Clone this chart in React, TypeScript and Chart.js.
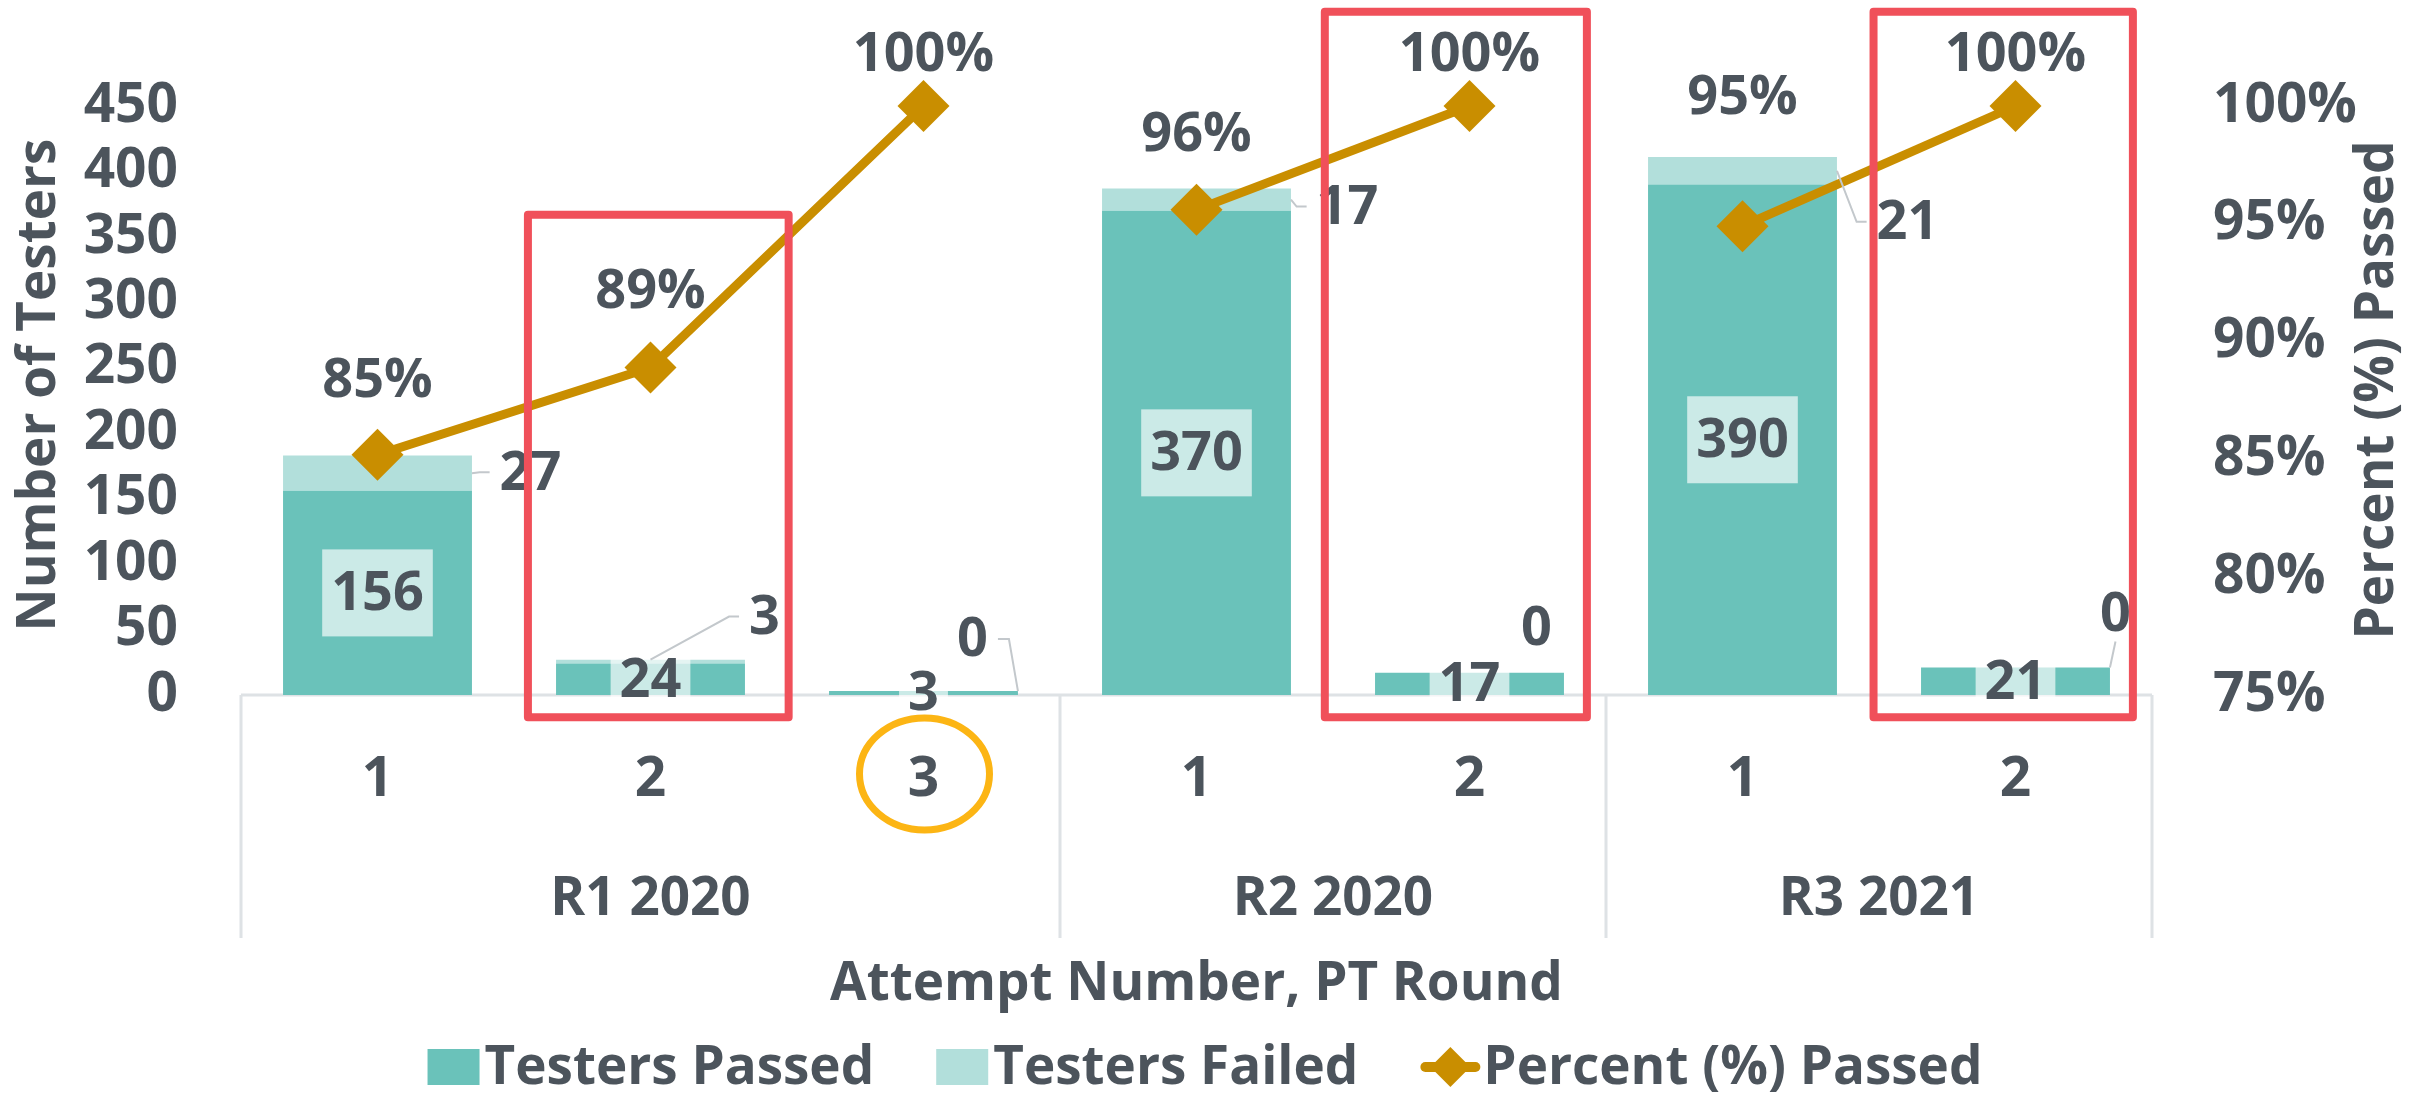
import React, { useEffect, useRef } from 'react';
import { Chart, registerables } from 'chart.js';

Chart.register(...registerables);

// ---------- data ----------
const attemptLabels = ['1', '2', '3', '1', '2', '1', '2'];
const roundOfBar = [0, 0, 0, 1, 1, 2, 2];
const roundNames = ['R1 2020', 'R2 2020', 'R3 2021'];
const testersPassed = [156, 24, 3, 370, 17, 390, 21];
const testersFailed = [27, 3, 0, 17, 0, 21, 0];
const percentPassed = [0.852, 0.889, 1.0, 0.956, 1.0, 0.949, 1.0];
const countTicks = [0, 50, 100, 150, 200, 250, 300, 350, 400, 450];
const percentTicks = [0.75, 0.8, 0.85, 0.9, 0.95, 1.0];

const yTitle = 'Number of Testers';
const y1Title = 'Percent (%) Passed';
const xTitle = 'Attempt Number, PT Round';

// ---------- styling ----------
const W = 2433;
const H = 1094;
const TEAL = '#6AC2BA';
const TEAL_LIGHT = '#B2DFDB';
const GOLD = '#C98E00';
const TEXT = '#4C545C';
const RED = '#F0505A';
const AMBER = '#FCB514';
const GRIDC = '#DEE2E5';
const LEADER = '#C3C8CC';
const FAMILY = "'Open Sans', 'DejaVu Sans', sans-serif";
const AXIS_FONT = `bold 53px ${FAMILY}`;
const LABEL_FONT = `bold 54px ${FAMILY}`;

const pctLabelLift = [75, 77, 52, 76, 52, 130, 52];
const failedLabelPlacement: { dx: number; dy: number; from: string | null; to: string | null }[] = [
  { dx: 153, dy: -1, from: 'edge', to: 'left' },
  { dx: 114, dy: -45, from: 'top', to: 'left' },
  { dx: 49, dy: -52, from: 'corner', to: 'right' },
  { dx: 151, dy: 7, from: 'edge', to: 'left' },
  { dx: 67, dy: -45, from: null, to: null },
  { dx: 165, dy: 51, from: 'edge', to: 'left' },
  { dx: 100, dy: -54, from: 'corner', to: 'below' },
];
const highlightBoxes = [
  { from: 0.551, to: 1.506, top: 367, bottom: -17 },
  { from: 3.47, to: 4.43, top: 522, bottom: -17 },
  { from: 5.48, to: 6.43, top: 522, bottom: -17 },
];
const circledIndex = 2;

function drawDiamond(ctx: CanvasRenderingContext2D, x: number, y: number, r: number) {
  ctx.beginPath();
  ctx.moveTo(x - r, y);
  ctx.lineTo(x, y - r);
  ctx.lineTo(x + r, y);
  ctx.lineTo(x, y + r);
  ctx.closePath();
  ctx.fill();
}

const overlayPlugin = {
  id: 'overlay',
  beforeDatasetsDraw(chart: any) {
    const { ctx, chartArea: a } = chart;
    const x = chart.scales.x;
    ctx.save();
    ctx.strokeStyle = GRIDC;
    ctx.lineWidth = 3;
    ctx.beginPath();
    ctx.moveTo(a.left, a.bottom);
    ctx.lineTo(a.right, a.bottom);
    const bounds: number[] = [-0.5];
    for (let i = 1; i < roundOfBar.length; i++) if (roundOfBar[i] !== roundOfBar[i - 1]) bounds.push(i - 0.5);
    bounds.push(roundOfBar.length - 0.5);
    bounds.forEach((b) => {
      const px = x.getPixelForValue(b);
      ctx.moveTo(px, a.bottom);
      ctx.lineTo(px, a.bottom + 243);
    });
    ctx.stroke();
    ctx.restore();
  },
  afterDatasetsDraw(chart: any) {
    const { ctx } = chart;
    const lineMeta = chart.getDatasetMeta(0);
    const passMeta = chart.getDatasetMeta(1);
    const failMeta = chart.getDatasetMeta(2);
    ctx.save();
    ctx.font = LABEL_FONT;
    ctx.textAlign = 'center';
    ctx.textBaseline = 'middle';

    // passed labels (inside, with translucent box)
    passMeta.data.forEach((bar: any, i: number) => {
      const t = String(testersPassed[i]);
      const cy = (bar.y + bar.base) / 2;
      const tw = ctx.measureText(t).width;
      ctx.fillStyle = 'rgba(255,255,255,0.65)';
      ctx.fillRect(bar.x - tw / 2 - 9, cy - 43.5, tw + 18, 87);
      ctx.fillStyle = TEXT;
      ctx.fillText(t, bar.x, cy + 2);
    });

    // failed labels with leader lines
    failMeta.data.forEach((bar: any, i: number) => {
      const p = failedLabelPlacement[i];
      const t = String(testersFailed[i]);
      const segCy = (bar.y + bar.base) / 2;
      const lx = bar.x + p.dx;
      const ly = segCy + p.dy;
      const tw = ctx.measureText(t).width;
      if (p.from && p.to) {
        const half = bar.width / 2;
        let sx = bar.x + half;
        let sy = segCy;
        if (p.from === 'top') { sx = bar.x; sy = bar.y; }
        if (p.from === 'corner') { sx = bar.x + half; sy = bar.y; }
        const pts: number[][] = [[sx, sy]];
        const left = lx - tw / 2;
        const right = lx + tw / 2;
        if (p.to === 'left') { pts.push([left - 20, ly], [left - 10, ly]); }
        if (p.to === 'right') { pts.push([right + 21, ly], [right + 10, ly]); }
        if (p.to === 'below') { pts.push([lx, ly + 28]); }
        ctx.strokeStyle = LEADER;
        ctx.lineWidth = 2;
        ctx.beginPath();
        ctx.moveTo(pts[0][0], pts[0][1]);
        for (let k = 1; k < pts.length; k++) ctx.lineTo(pts[k][0], pts[k][1]);
        ctx.stroke();
      }
      ctx.fillStyle = TEXT;
      ctx.fillText(t, lx, ly + 2);
    });

    // percent labels
    lineMeta.data.forEach((pt: any, i: number) => {
      ctx.fillStyle = TEXT;
      ctx.fillText(Math.round(percentPassed[i] * 100) + '%', pt.x, pt.y - pctLabelLift[i] + 2);
    });
    ctx.restore();
  },
  afterDraw(chart: any) {
    const { ctx, chartArea: a } = chart;
    const x = chart.scales.x;
    const y = chart.scales.y;
    ctx.save();
    ctx.fillStyle = TEXT;
    ctx.font = AXIS_FONT;
    ctx.textAlign = 'center';
    ctx.textBaseline = 'middle';

    // group labels
    roundNames.forEach((name, g) => {
      const idx = roundOfBar.map((r, i) => (r === g ? i : -1)).filter((i) => i >= 0);
      const cx = (x.getPixelForValue(idx[0] - 0.5) + x.getPixelForValue(idx[idx.length - 1] + 0.5)) / 2;
      ctx.fillText(name, cx, a.bottom + 205);
    });

    // x title
    ctx.fillText(xTitle, (a.left + a.right) / 2, a.bottom + 290);

    // y titles
    ctx.save();
    ctx.translate(40, 385);
    ctx.rotate(-Math.PI / 2);
    ctx.fillText(yTitle, 0, 0);
    ctx.restore();
    ctx.save();
    ctx.translate(2378, 390);
    ctx.rotate(-Math.PI / 2);
    ctx.fillText(y1Title, 0, 0);
    ctx.restore();

    // legend
    const ds = chart.data.datasets;
    const items = [ds[1], ds[2], ds[0]];
    const ly = 1067;
    const gap = 62;
    ctx.textAlign = 'left';
    const widths = items.map((d: any) => (d.type === 'line' ? 63 : 57) + ctx.measureText(d.label).width);
    const total = widths.reduce((s: number, w: number) => s + w, 0) + gap * (items.length - 1);
    let lx = 1205 - total / 2;
    items.forEach((d: any, k: number) => {
      if (d.type === 'line') {
        ctx.strokeStyle = GOLD;
        ctx.lineWidth = 10;
        ctx.lineCap = 'round';
        ctx.beginPath();
        ctx.moveTo(lx + 5, ly);
        ctx.lineTo(lx + 55, ly);
        ctx.stroke();
        ctx.fillStyle = GOLD;
        drawDiamond(ctx, lx + 30, ly, 20);
        ctx.fillStyle = TEXT;
        ctx.fillText(d.label, lx + 63, ly + 2);
      } else {
        ctx.fillStyle = d.backgroundColor;
        ctx.fillRect(lx, ly - 18, 52, 36);
        ctx.fillStyle = TEXT;
        ctx.fillText(d.label, lx + 57, ly + 2);
      }
      lx += widths[k] + gap;
    });

    // highlight rectangles
    ctx.strokeStyle = RED;
    ctx.lineWidth = 8;
    ctx.lineJoin = 'round';
    highlightBoxes.forEach((b) => {
      const x0 = x.getPixelForValue(b.from);
      const x1 = x.getPixelForValue(b.to);
      const y0 = y.getPixelForValue(b.top);
      const y1 = y.getPixelForValue(b.bottom);
      ctx.strokeRect(x0, y0, x1 - x0, y1 - y0);
    });

    // circled tick label
    ctx.strokeStyle = AMBER;
    ctx.lineWidth = 7;
    ctx.beginPath();
    ctx.ellipse(x.getPixelForValue(circledIndex) + 1, a.bottom + 79, 65, 56, 0, 0, Math.PI * 2);
    ctx.stroke();
    ctx.restore();
  },
};

export default function App() {
  const canvasRef = useRef<HTMLCanvasElement | null>(null);

  useEffect(() => {
    document.body.style.margin = '0';
    const canvas = canvasRef.current;
    if (!canvas) return;
    const tickFont = { family: FAMILY, size: 55, weight: 'bold' as const };
    const chart = new Chart(canvas, {
      type: 'bar',
      data: {
        labels: attemptLabels,
        datasets: [
          {
            type: 'line',
            label: 'Percent (%) Passed',
            data: percentPassed,
            yAxisID: 'y1',
            order: 0,
            borderColor: GOLD,
            backgroundColor: GOLD,
            borderWidth: 9,
            pointStyle: 'rectRot',
            pointRadius: 26,
            pointBorderWidth: 0,
            pointBackgroundColor: GOLD,
            pointHoverRadius: 26,
            clip: false as any,
            tension: 0,
            segment: {
              borderColor: (c: any) =>
                roundOfBar[c.p0DataIndex] === roundOfBar[c.p1DataIndex] ? GOLD : 'rgba(0,0,0,0)',
            },
          } as any,
          {
            type: 'bar',
            label: 'Testers Passed',
            data: testersPassed,
            yAxisID: 'y',
            order: 1,
            backgroundColor: TEAL,
            borderWidth: 0,
            barPercentage: 0.692,
            categoryPercentage: 1,
          },
          {
            type: 'bar',
            label: 'Testers Failed',
            data: testersFailed,
            yAxisID: 'y',
            order: 1,
            backgroundColor: TEAL_LIGHT,
            borderWidth: 0,
            barPercentage: 0.692,
            categoryPercentage: 1,
          },
        ],
      },
      options: {
        responsive: false,
        devicePixelRatio: 1,
        animation: false,
        events: [],
        layout: { padding: { top: 106, left: 0, right: 0, bottom: 0 } },
        plugins: { legend: { display: false }, tooltip: { enabled: false }, title: { display: false } },
        scales: {
          x: {
            stacked: true,
            offset: true,
            grid: { display: false, drawTicks: false },
            border: { display: false },
            ticks: { font: tickFont, color: TEXT, padding: 52, maxRotation: 0, autoSkip: false },
            afterFit: (s: any) => { s.height = H - 695; },
          },
          y: {
            stacked: true,
            position: 'left',
            min: 0,
            max: 450,
            grid: { display: false, drawTicks: false },
            border: { display: false },
            ticks: { font: tickFont, color: TEXT, padding: 63, autoSkip: false },
            afterBuildTicks: (s: any) => { s.ticks = countTicks.map((v) => ({ value: v })); },
            afterFit: (s: any) => { s.width = 241; },
          },
          y1: {
            stacked: false,
            position: 'right',
            min: 0.75,
            max: 1.0,
            grid: { display: false, drawTicks: false },
            border: { display: false },
            ticks: {
              font: tickFont,
              color: TEXT,
              padding: 61,
              autoSkip: false,
              callback: (v: any) => Math.round(Number(v) * 100) + '%',
            },
            afterBuildTicks: (s: any) => { s.ticks = percentTicks.map((v) => ({ value: v })); },
            afterFit: (s: any) => { s.width = W - 2152; },
          },
        },
      },
      plugins: [overlayPlugin],
    });
    return () => chart.destroy();
  }, []);

  return (
    <div style={{ position: 'fixed', left: 0, top: 0, width: W, height: H, background: '#fff' }}>
      <canvas ref={canvasRef} width={W} height={H} style={{ display: 'block', width: W, height: H }} />
    </div>
  );
}
